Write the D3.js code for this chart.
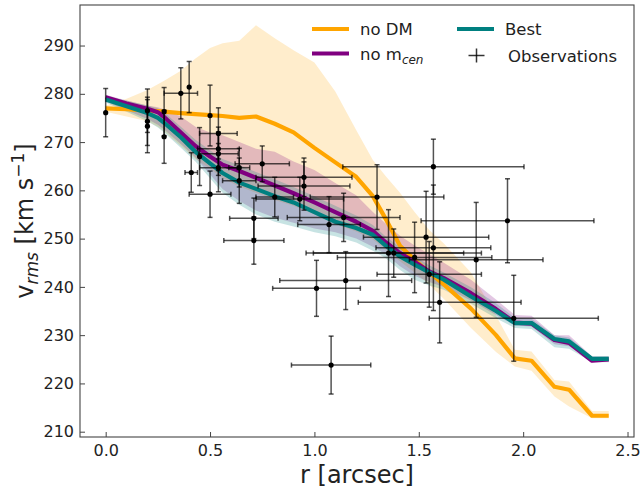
<!DOCTYPE html>
<html><head><meta charset="utf-8">
<script src="https://cdn.jsdelivr.net/npm/d3@7"></script>
<style>body{margin:0;background:#fff}svg{display:block}text{font-family:"DejaVu Sans",sans-serif;fill:#222}</style>
</head><body><svg id="c" width="641" height="491"></svg>
<script>
// model grid (arcsec)
const gridR   = [0,0.1,0.2,0.25,0.28,0.36,0.43,0.5,0.56,0.64,0.72,0.81,0.9,1.0,1.1,1.2,1.28,1.34,1.41,1.48,1.55,1.62,1.75,1.87,1.96,2.04,2.15,2.22,2.33,2.41];
// no DM model
const noDM    = [277.0,276.8,276.5,276.4,276.3,276.0,275.8,275.6,275.4,275.0,275.3,273.8,272.0,268.8,265.8,262.8,258.8,254.2,248.5,245.6,243.0,240.5,235.5,230.0,225.2,224.7,219.3,218.7,213.3,213.3];
const noDMLo  = [276.3,275.3,274.3,273.2,272.2,269.2,266.5,264.5,262.5,260.8,259.5,258.0,256.8,255.0,253.0,251.5,249.8,247.8,245.3,243.0,240.5,237.5,231.5,226.5,223.5,222.6,217.3,215.2,212.8,212.8];
const noDMHi  = [277.6,279.0,280.8,282.0,282.7,284.8,287.3,289.5,290.5,291.0,294.2,291.5,289.0,286.5,280.5,272.5,266.3,263.0,259.5,255.5,251.8,249.0,243.0,234.0,227.0,226.6,220.7,220.4,214.3,214.3];
// no m_cen model
const noMcen   = [279.3,278.0,276.9,276.2,275.2,272.0,269.2,267.0,265.3,264.0,262.6,261.0,259.4,257.5,255.5,253.5,251.6,249.3,247.0,245.2,243.2,241.8,238.7,235.4,232.6,232.4,229.0,228.4,224.7,225.0];
const noMcenLo = [278.4,276.6,274.8,273.6,272.6,269.6,266.8,263.3,260.3,257.8,255.8,254.3,253.3,252.1,251.3,250.0,248.3,246.8,244.3,242.3,241.0,240.0,237.2,234.2,232.0,231.8,228.1,227.7,224.5,224.5];
const noMcenHi = [279.8,278.6,277.6,277.2,276.8,275.3,273.2,272.0,271.4,270.0,268.6,268.0,266.0,264.2,261.5,259.0,255.5,253.2,250.6,248.6,246.8,245.0,241.5,237.4,234.2,234.0,230.0,230.0,225.6,225.6];
// best model
const best    = [278.8,277.4,276.0,275.0,274.0,271.0,268.0,265.6,263.6,261.6,260.3,258.8,257.5,255.5,253.5,252.2,250.8,248.6,246.3,244.6,243.0,241.5,238.0,235.0,232.5,232.5,229.2,228.7,225.1,225.1];
const bestLo  = [278.2,276.3,274.3,273.0,272.0,268.8,266.0,262.5,259.5,257.0,255.0,253.5,252.5,251.3,250.5,249.2,247.5,246.0,243.5,241.5,240.3,239.4,236.5,233.5,231.5,231.3,227.5,227.2,224.4,224.4];
const bestHi  = [279.5,278.6,277.6,277.0,276.2,273.2,270.5,268.3,266.5,265.2,263.8,262.3,260.7,258.8,256.8,254.8,252.8,250.5,248.2,246.4,244.5,243.0,239.9,236.6,233.6,233.4,230.0,229.5,225.6,225.7];
// observations
const obsR    = [0.00,0.20,0.20,0.20,0.28,0.28,0.36,0.40,0.50,0.54,0.54,0.54,0.45,0.41,0.54,0.50,0.64,0.64,0.75,0.81,0.93,0.71,0.71,0.95,0.95,1.07,1.14,1.30,1.57,1.355,1.38,1.48,1.55,1.535,1.57,1.60,1.15,1.01,1.08,1.775,1.925,1.955];
const obsV    = [276.1,276.5,274.3,273.3,276.3,271.1,280.1,281.4,275.5,271.8,268.6,267.6,267.0,263.7,264.7,259.2,264.7,262.0,265.5,258.6,258.2,254.2,249.6,262.7,260.9,252.9,254.4,258.6,264.9,247.0,247.0,246.1,242.6,250.3,248.1,236.8,241.3,239.7,223.8,245.6,253.7,233.5];
const obsRErr = [0,0,0,0,0,0,0.08,0,0,0.09,0.10,0.095,0,0.03,0.09,0.10,0.05,0.08,0.13,0.09,0.21,0.116,0.144,0.23,0.22,0.15,0.27,0.32,0.434,0.36,0.42,0.37,0.25,0.30,0.275,0.39,0.316,0.21,0.19,0.32,0.414,0.405];
const obsVErr = [5.0,4.5,5.0,5.5,5.0,5.5,5.3,5.3,6.3,5.3,4.5,4.5,6.0,4.1,5.0,4.8,4.0,4.7,3.7,4.1,4.5,4.2,4.9,4.0,5.0,5.8,5.0,6.7,5.7,9.0,5.0,7.3,6.8,9.5,13.0,8.4,6.0,5.8,6.0,11.9,8.7,8.9];
const xTicks = [0,0.5,1.0,1.5,2.0,2.5];
const yTicks = [210,220,230,240,250,260,270,280,290];

const C_ORANGE = "#FFA500", C_PURPLE = "#800080", C_TEAL = "#008080";

const svg = d3.select("#c");
const L = 80, R = 634, T = 5, B = 437;
const x = d3.scaleLinear().domain([-0.123, 2.531]).range([L, R]);
const y = d3.scaleLinear().domain([208.9, 298.4]).range([B, T]);

const plot = svg.append("g");
const area = (lo, hi) => d3.area().x((d,i)=>x(gridR[i])).y0((d,i)=>y(lo[i])).y1((d,i)=>y(hi[i]))(gridR);
const line = (v) => d3.line().x((d,i)=>x(gridR[i])).y((d,i)=>y(v[i]))(gridR);

plot.append("path").attr("d", area(noDMLo, noDMHi)).attr("fill", C_ORANGE).attr("fill-opacity", 0.2);
plot.append("path").attr("d", area(noMcenLo, noMcenHi)).attr("fill", C_PURPLE).attr("fill-opacity", 0.22);
plot.append("path").attr("d", area(bestLo, bestHi)).attr("fill", C_TEAL).attr("fill-opacity", 0.22);

[[noDM, C_ORANGE],[noMcen, C_PURPLE],[best, C_TEAL]].forEach(([v,c]) => {
  plot.append("path").attr("d", line(v)).attr("fill","none").attr("stroke", c)
    .attr("stroke-width", 4.2).attr("stroke-linejoin","round");
});

// error bars
const eb = plot.append("g").attr("stroke", "#000").attr("stroke-opacity", 0.68).attr("stroke-width", 1.5);
const cap = 2.5;
obsR.forEach((r, i) => {
  const cx = x(r), cy = y(obsV[i]);
  const y1 = y(obsV[i] + obsVErr[i]), y2 = y(obsV[i] - obsVErr[i]);
  eb.append("line").attr("x1", cx).attr("x2", cx).attr("y1", y1).attr("y2", y2);
  eb.append("line").attr("x1", cx-cap).attr("x2", cx+cap).attr("y1", y1).attr("y2", y1);
  eb.append("line").attr("x1", cx-cap).attr("x2", cx+cap).attr("y1", y2).attr("y2", y2);
  if (obsRErr[i] > 0) {
    const x1 = x(r - obsRErr[i]), x2 = x(r + obsRErr[i]);
    eb.append("line").attr("x1", x1).attr("x2", x2).attr("y1", cy).attr("y2", cy);
    eb.append("line").attr("x1", x1).attr("x2", x1).attr("y1", cy-cap).attr("y2", cy+cap);
    eb.append("line").attr("x1", x2).attr("x2", x2).attr("y1", cy-cap).attr("y2", cy+cap);
  }
});
plot.append("g").selectAll("circle").data(obsR).join("circle")
  .attr("cx", (d)=>x(d)).attr("cy", (d,i)=>y(obsV[i])).attr("r", 2.6).attr("fill", "#000");

// axes
const xAxis = svg.append("g").attr("transform", `translate(0,${B})`)
  .call(d3.axisBottom(x).tickValues(xTicks).tickFormat(d3.format(".1f")).tickSizeInner(-5).tickSizeOuter(0).tickPadding(8));
const yAxis = svg.append("g").attr("transform", `translate(${L},0)`)
  .call(d3.axisLeft(y).tickValues(yTicks).tickFormat(d3.format("d")).tickSizeInner(-5).tickSizeOuter(0).tickPadding(6));
[xAxis, yAxis].forEach(a => {
  a.select(".domain").remove();
  a.selectAll(".tick line").attr("stroke", "#444").attr("stroke-width", 1);
  a.selectAll(".tick text").attr("font-size", 16).attr("font-family", '"DejaVu Sans",sans-serif').attr("fill", "#222");
});
svg.append("rect").attr("x", L).attr("y", T).attr("width", R-L).attr("height", B-T)
  .attr("fill", "none").attr("stroke", "#444").attr("stroke-width", 1.1);

// axis labels
svg.append("text").attr("x", (L+R)/2).attr("y", 483).attr("text-anchor", "middle").attr("font-size", 24).text("r [arcsec]");
const yl = svg.append("text").attr("transform", `translate(33,${(T+B)/2}) rotate(-90)`).attr("text-anchor", "middle").attr("font-size", 24);
yl.append("tspan").text("v");
yl.append("tspan").attr("font-size", 17).attr("font-style", "italic").attr("dy", 5).text("rms");
yl.append("tspan").attr("dy", -5).text(" [km s");
yl.append("tspan").attr("font-size", 17).attr("dy", -9).text("\u22121");
yl.append("tspan").attr("dy", 9).text("]");

// legend
const lg = svg.append("g").attr("font-size", 16.5);
const legItems = [
  {x: 312, y: 29, c: C_ORANGE, t: "no DM"},
  {x: 312, y: 53.5, c: C_PURPLE, t: "no m", sub: "cen"},
  {x: 457, y: 29, c: C_TEAL, t: "Best"}
];
legItems.forEach(d => {
  lg.append("line").attr("x1", d.x).attr("x2", d.x+37).attr("y1", d.y).attr("y2", d.y).attr("stroke", d.c).attr("stroke-width", 4.2);
  const t = lg.append("text").attr("x", d.x+48).attr("y", d.y+6).text(d.t);
  if (d.sub) t.append("tspan").attr("font-size", 12).attr("font-style", "italic").attr("dy", 4).text(d.sub);
});
const ox = 476.5, oy = 55.5;
const lo = lg.append("g").attr("stroke", "#000").attr("stroke-opacity", 0.8).attr("stroke-width", 1.5);
lo.append("line").attr("x1", ox-8).attr("x2", ox+8).attr("y1", oy).attr("y2", oy);
lo.append("line").attr("x1", ox).attr("x2", ox).attr("y1", oy-7).attr("y2", oy+7);
lg.append("text").attr("x", 508).attr("y", 61.5).text("Observations");
</script></body></html>
